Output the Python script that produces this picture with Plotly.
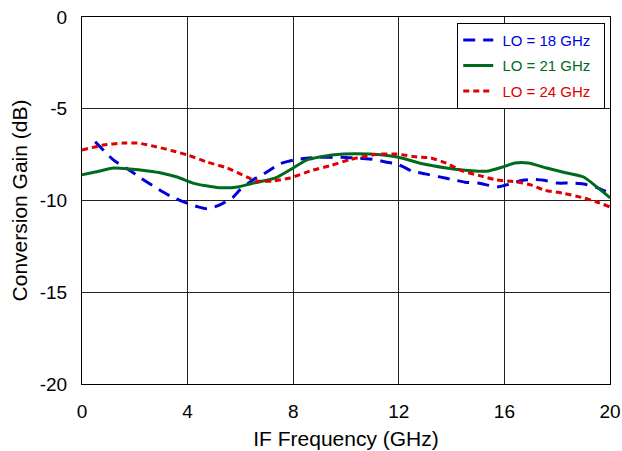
import plotly.graph_objects as go

# IF frequency (GHz) and conversion gain (dB)
x_lo18 = [0.5, 1.2, 1.8, 2.2, 2.8, 3.4, 3.9, 4.4, 4.75, 5.2, 5.7, 6.0, 6.5, 7.0, 7.5,
          8.0, 8.5, 9.0, 9.5, 10.0, 10.5, 11.0, 11.5, 12.0, 12.5, 13.0, 13.5, 14.0,
          14.5, 15.0, 15.5, 15.8, 16.2, 16.7, 17.1, 17.5, 18.0, 18.5, 19.0, 19.5, 20.0]
y_lo18 = [-6.8, -7.8, -8.35, -8.75, -9.3, -9.8, -10.1, -10.35, -10.45, -10.25, -9.85,
          -9.4, -8.85, -8.45, -8.0, -7.8, -7.7, -7.65, -7.65, -7.65, -7.7, -7.75, -7.9,
          -8.05, -8.4, -8.55, -8.7, -8.85, -9.0, -9.05, -9.2, -9.25, -9.1, -8.9, -8.85,
          -8.9, -9.05, -9.05, -9.1, -9.3, -9.6]

x_lo21 = [0.0, 0.5, 1.2, 1.8, 2.5, 3.0, 3.6, 4.2, 4.7, 5.2, 5.9, 6.5, 7.0, 7.4, 8.0,
          8.5, 9.0, 9.9, 10.9, 11.7, 12.1, 12.9, 13.8, 14.5, 15.0, 15.4, 15.95, 16.4,
          16.9, 17.6, 18.2, 19.0, 19.5, 20.0]
y_lo21 = [-8.6, -8.45, -8.23, -8.28, -8.39, -8.5, -8.72, -9.05, -9.2, -9.3, -9.26,
          -9.05, -8.9, -8.72, -8.23, -7.8, -7.63, -7.47, -7.47, -7.57, -7.68, -8.0,
          -8.23, -8.35, -8.4, -8.39, -8.17, -7.96, -7.96, -8.23, -8.45, -8.72, -9.26,
          -9.85]

x_lo24 = [0.0, 0.8, 1.55, 2.1, 2.84, 3.45, 4.0, 4.73, 5.5, 6.25, 6.63, 7.23, 7.88,
          8.75, 9.4, 10.15, 10.8, 11.3, 11.93, 12.7, 13.2, 13.8, 14.4, 15.1, 15.7,
          16.5, 17.0, 17.5, 18.2, 19.0, 19.5, 20.0]
y_lo24 = [-7.25, -6.98, -6.87, -6.87, -7.08, -7.3, -7.52, -7.9, -8.23, -8.72, -8.94,
          -8.94, -8.77, -8.34, -8.1, -7.77, -7.57, -7.47, -7.47, -7.63, -7.68, -7.96,
          -8.39, -8.66, -8.88, -8.99, -9.15, -9.43, -9.6, -9.86, -10.08, -10.35]

series_names = ["LO = 18 GHz", "LO = 21 GHz", "LO = 24 GHz"]
x_ticks = [0, 4, 8, 12, 16, 20]
y_ticks = [0, -5, -10, -15, -20]
y_tick_labels = ["0", "-5", "-10", "-15", "-20"]

BLUE = "#0000dc"
GREEN = "#006b1e"
RED = "#e00000"
FONT = "Liberation Sans, Arial, sans-serif"

fig = go.Figure()
for i, (xs, ys, name, col, dash) in enumerate([
    (x_lo18, y_lo18, series_names[0], BLUE, "12px,8px"),
    (x_lo21, y_lo21, series_names[1], GREEN, "solid"),
    (x_lo24, y_lo24, series_names[2], RED, "6px,4px"),
]):
    fig.add_trace(go.Scatter(
        x=xs, y=ys, mode="lines", legendgroup=f"g{i}",
        name=f"<span style='color:{col}'>\u00a0{name}\u00a0\u00a0</span>",
        line=dict(color=col, width=3, dash=dash, shape="spline", smoothing=0.6),
    ))

axis_common = dict(
    showline=True, linecolor="black", linewidth=1, mirror=True,
    showgrid=True, gridcolor="#222", gridwidth=1,
    zeroline=False, ticks="", automargin=False,
    tickfont=dict(family=FONT, size=19, color="black"),
    ticklabelstandoff=10,
)

fig.update_layout(
    width=622, height=451,
    margin=dict(l=82, r=12, t=17, b=67),
    paper_bgcolor="white", plot_bgcolor="white",
    font=dict(family=FONT, color="black"),
    xaxis=dict(range=[0, 20], tickvals=x_ticks,
               title=dict(text="IF Frequency (GHz)", font=dict(family=FONT, size=21), standoff=10),
               **axis_common),
    yaxis=dict(range=[-20, 0], tickvals=y_ticks, ticktext=y_tick_labels,
               title=dict(text="Conversion Gain (dB)", font=dict(family=FONT, size=21), standoff=6),
               **axis_common),
    legend=dict(x=0.991, y=0.984, xanchor="right", yanchor="top",
                bgcolor="white", bordercolor="black", borderwidth=1,
                traceorder="grouped", tracegroupgap=3,
                font=dict(family=FONT, size=15)),
    showlegend=True,
)

fig.write_html("out.html")
